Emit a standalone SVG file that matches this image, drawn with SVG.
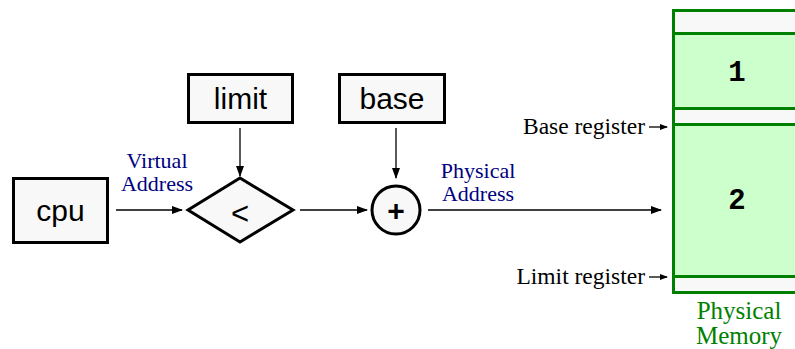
<svg xmlns="http://www.w3.org/2000/svg" width="795" height="349" viewBox="0 0 795 349">
<defs>
<marker id="ah" markerWidth="11" markerHeight="8" refX="10" refY="4" orient="auto" markerUnits="userSpaceOnUse">
<path d="M0,0 L11,4 L0,8 Z" fill="#000"/>
</marker>
<marker id="ahs" markerWidth="8" markerHeight="6" refX="7" refY="3" orient="auto" markerUnits="userSpaceOnUse">
<path d="M0,0 L8,3 L0,6 Z" fill="#000"/>
</marker>
<style>
.box{fill:#f8f8f8;stroke:#000;stroke-width:3}
.lbl{font-family:"Liberation Sans",Arial,sans-serif;font-size:30px;fill:#000;text-anchor:middle}
.blue{font-family:"Liberation Serif","Times New Roman",serif;font-size:22px;fill:#000080;text-anchor:middle}
.reg{font-family:"Liberation Serif","Times New Roman",serif;font-size:23.5px;fill:#000;text-anchor:end}
.mem{fill:#ccffcc;stroke:#008000;stroke-width:3}
.memo{fill:#f8f8f8;stroke:#008000;stroke-width:3}
.num{font-family:"Liberation Mono","Courier New",monospace;font-size:29px;font-weight:bold;fill:#000;text-anchor:middle}
.green{font-family:"Liberation Serif","Times New Roman",serif;font-size:25px;fill:#008000;text-anchor:middle}
.conn{stroke:#000;stroke-width:1.3;fill:none}
</style>
</defs>
<rect width="795" height="349" fill="#fff"/>
<g id="connectors">
<line class="conn" x1="116" y1="210" x2="182" y2="210" marker-end="url(#ah)"/>
<line class="conn" x1="240" y1="128" x2="240" y2="176" marker-end="url(#ah)"/>
<line class="conn" x1="300" y1="210" x2="367" y2="210" marker-end="url(#ah)"/>
<line class="conn" x1="396" y1="128" x2="396" y2="178" marker-end="url(#ah)"/>
<line class="conn" x1="428" y1="210" x2="661" y2="210" marker-end="url(#ah)"/>
<line class="conn" x1="649" y1="127" x2="667" y2="127" marker-end="url(#ahs)"/>
<line class="conn" x1="649" y1="277" x2="667" y2="277" marker-end="url(#ahs)"/>
</g>
<g id="cpu">
<rect class="box" x="13.5" y="178.5" width="94" height="64"/>
<text class="lbl" x="60.5" y="221">cpu</text>
</g>
<g id="limit">
<rect class="box" x="188.5" y="74.5" width="104" height="48"/>
<text class="lbl" x="240.5" y="109">limit</text>
</g>
<g id="base">
<rect class="box" x="339.5" y="74.5" width="105" height="48"/>
<text class="lbl" x="392" y="109">base</text>
</g>
<g id="compare">
<polygon points="240,178 293,210 240,242 188,210" fill="#f8f8f8" stroke="#000" stroke-width="3"/>
<text class="lbl" x="240" y="224" style="font-size:31px">&lt;</text>
</g>
<g id="add">
<circle cx="396" cy="210" r="24" fill="#f8f8f8" stroke="#000" stroke-width="3"/>
<text x="396" y="221" style="font-family:'Liberation Sans',Arial,sans-serif;font-size:30px;font-weight:bold;text-anchor:middle">+</text>
</g>
<g id="virtual-label">
<text class="blue" x="157" y="168">Virtual</text>
<text class="blue" x="157" y="191">Address</text>
</g>
<g id="physical-label">
<text class="blue" x="478" y="178">Physical</text>
<text class="blue" x="478" y="201">Address</text>
</g>
<g id="memory">
<rect class="memo" x="673.5" y="10.5" width="130" height="282"/>
<rect class="mem" x="673.5" y="33.5" width="130" height="75"/>
<rect class="mem" x="673.5" y="124.5" width="130" height="152"/>
<text class="num" x="737" y="81">1</text>
<text class="num" x="737" y="209">2</text>
<text class="green" x="739" y="319">Physical</text>
<text class="green" x="739" y="344">Memory</text>
</g>
<g id="registers">
<text class="reg" x="645" y="134">Base register</text>
<text class="reg" x="645" y="284">Limit register</text>
</g>
</svg>
